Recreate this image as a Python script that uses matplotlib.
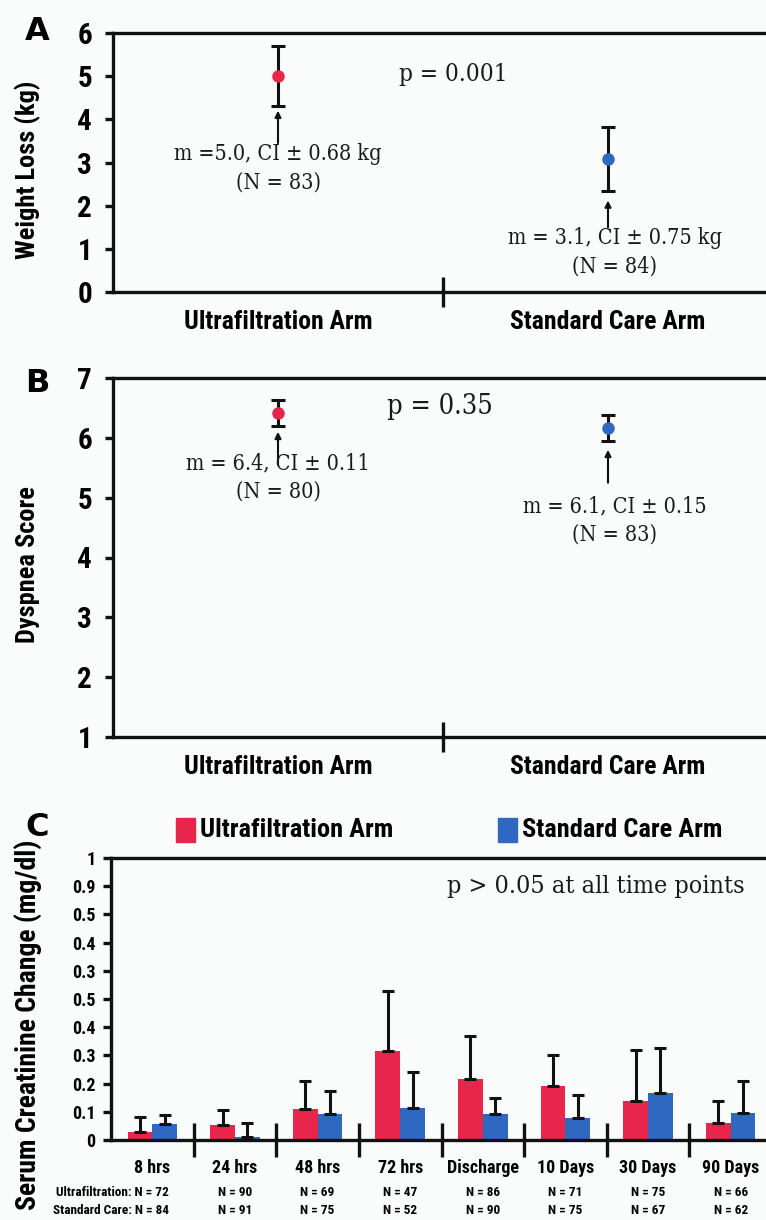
import matplotlib
matplotlib.use("Agg")
import matplotlib.pyplot as plt
import matplotlib.transforms as mtransforms
from matplotlib import font_manager as fm
import numpy as np

# ---------------- data ----------------
arms = ["Ultrafiltration Arm", "Standard Care Arm"]

weight_mean = [5.0, 3.08]
weight_err = [0.7, 0.74]
weight_text = ["m =5.0, CI \u00b1 0.68 kg\n(N = 83)", "m = 3.1, CI \u00b1 0.75 kg\n(N = 84)"]

dysp_mean = [6.41, 6.16]
dysp_err = [0.22, 0.22]
dysp_text = ["m = 6.4, CI \u00b1 0.11\n(N = 80)", "m = 6.1, CI \u00b1 0.15\n(N = 83)"]

time_points = ["8 hrs", "24 hrs", "48 hrs", "72 hrs", "Discharge", "10 Days", "30 Days", "90 Days"]
uf_change = [0.03, 0.053, 0.111, 0.315, 0.216, 0.193, 0.137, 0.061]
uf_err = [0.05, 0.054, 0.099, 0.215, 0.154, 0.107, 0.183, 0.077]
sc_change = [0.056, 0.01, 0.091, 0.115, 0.091, 0.078, 0.166, 0.096]
sc_err = [0.032, 0.05, 0.081, 0.125, 0.057, 0.08, 0.161, 0.112]
uf_n = [72, 90, 69, 47, 86, 71, 75, 66]
sc_n = [84, 91, 75, 52, 90, 75, 67, 62]
c_ytick_vals = [0, 0.1, 0.2, 0.3, 0.4, 0.5, 0.6, 0.7, 0.8, 0.9, 1.0]
c_ytick_labels = ["0", "0.1", "0.2", "0.3", "0.4", "0.5", "0.3", "0.4", "0.5", "0.9", "1"]

RED = "#e8254a"
BLUE = "#2f68c0"
BG = "#fafbfb"

# ---------------- fonts ----------------
avail = {f.name for f in fm.fontManager.ttflist}
cond_pref = ["Roboto Condensed", "Liberation Sans Narrow", "Open Sans Condensed",
             "Roboto", "Liberation Sans", "DejaVu Sans"]
cond_fam = [f for f in cond_pref if f in avail] or ["DejaVu Sans"]
COND = dict(family=[cond_fam[0], "DejaVu Sans"], weight="bold")
serif_cond = any(f.name == "DejaVu Serif" and f.stretch == "condensed"
                 for f in fm.fontManager.ttflist)
if serif_cond:
    SERIF = dict(family=["DejaVu Serif"], stretch="condensed")
else:
    SERIF = dict(family=["Liberation Serif", "DejaVu Serif"])

W, H = 766, 1220
fig = plt.figure(figsize=(W / 100, H / 100), dpi=100, facecolor=BG)


def ax_at(left, top, right, bottom):
    return fig.add_axes([left / W, 1 - bottom / H, (right - left) / W, (bottom - top) / H])


def style(ax):
    ax.set_facecolor(BG)
    for s in ["left", "top", "bottom"]:
        ax.spines[s].set_linewidth(2.4)
        ax.spines[s].set_color("#111111")
    ax.spines["right"].set_visible(False)


def point_panel(ax, means, errs, texts, ylim, arrows, text_y, p_text, p_xy, p_size,
                ylabel, ylab_y, xlab_y):
    style(ax)
    ax.set_xlim(0, 2)
    ax.set_ylim(*ylim)
    xs = [0.5, 1.5]
    cols = [RED, BLUE]
    for x, m, e, c in zip(xs, means, errs, cols):
        ax.errorbar([x], [m], yerr=[e], fmt="none", ecolor="#111111", elinewidth=2.2,
                    capsize=5, capthick=2.2, zorder=2)
        ax.plot([x], [m], "o", color=c, ms=8, zorder=3)
    for x, (y0, y1) in zip(xs, arrows):
        ax.annotate("", xy=(x, y1), xytext=(x, y0),
                    arrowprops=dict(arrowstyle="-|>", color="#111111", lw=1.5,
                                    mutation_scale=9, shrinkA=0, shrinkB=0))
    for x, t, ty in zip([0.5, 1.52], texts, text_y):
        ax.text(x, ty, t, ha="center", va="top", fontsize=15.5, linespacing=1.35,
                color="#1a1a1a", **SERIF)
    ax.text(p_xy[0], p_xy[1], p_text, ha="center", va="center", fontsize=p_size,
            color="#1a1a1a", **SERIF)
    ax.set_xticks([1.0])
    ax.set_xticklabels([""])
    ax.tick_params(axis="x", direction="inout", length=22, width=2.4, color="#111111")
    ax.tick_params(axis="y", direction="out", length=6, width=2.4, color="#111111",
                   labelsize=21, pad=9)
    for lab in ax.get_yticklabels():
        lab.set_fontweight("bold")
        lab.set_family(COND["family"])
    tr = mtransforms.blended_transform_factory(ax.transData, fig.transFigure)
    for x, a in zip(xs, arms):
        fig.text(x, 1 - xlab_y / H, a, ha="center", va="center", fontsize=18.5,
                 transform=tr, **COND)
    fig.text(28 / W, 1 - ylab_y / H, ylabel, rotation=90, ha="center", va="center",
             fontsize=19, **COND)


# ---------------- Panel A ----------------
axA = ax_at(113, 33, 773, 292)
axA.set_yticks(range(0, 7))
point_panel(axA, weight_mean, weight_err, weight_text, (0, 6),
            [(3.45, 4.2), (1.5, 2.12)], [3.45, 1.5], "p = 0.001", (1.03, 5.05), 17.5,
            "Weight Loss (kg)", 170, 322)

# ---------------- Panel B ----------------
axB = ax_at(113, 378, 773, 737)
axB.set_yticks(range(1, 8))
point_panel(axB, dysp_mean, dysp_err, dysp_text, (1, 7),
            [(5.55, 6.1), (5.25, 5.8)], [5.75, 5.04], "p = 0.35", (0.99, 6.53), 19.5,
            "Dyspnea Score", 565, 767)

# ---------------- Panel C ----------------
axC = ax_at(111, 858, 772, 1140)
style(axC)
x = np.arange(len(time_points))
bw = 0.3
axC.bar(x - bw / 2, uf_change, width=bw, color=RED, zorder=2)
axC.bar(x + bw / 2, sc_change, width=bw, color=BLUE, zorder=2)
axC.errorbar(x - bw / 2, uf_change, yerr=[np.zeros(len(x)), uf_err], fmt="none",
             ecolor="#111111", elinewidth=2.2, capsize=4, capthick=2.2, zorder=3)
axC.errorbar(x + bw / 2, sc_change, yerr=[np.zeros(len(x)), sc_err], fmt="none",
             ecolor="#111111", elinewidth=2.2, capsize=4, capthick=2.2, zorder=3)
axC.set_xlim(-0.5, 7.5)
axC.set_ylim(0, 1)
axC.set_yticks(c_ytick_vals)
axC.set_yticklabels(c_ytick_labels)
axC.set_xticks(x)
axC.set_xticklabels(time_points)
axC.set_xticks(np.arange(0.5, 7.5, 1.0), minor=True)
axC.tick_params(axis="x", which="major", length=0, labelsize=13, pad=14)
axC.tick_params(axis="x", which="minor", direction="inout", length=24, width=2.4,
                color="#111111")
axC.tick_params(axis="y", direction="out", length=6, width=2.4, color="#111111",
                labelsize=13, pad=5)
for lab in axC.get_xticklabels() + axC.get_yticklabels():
    lab.set_fontweight("bold")
    lab.set_family(COND["family"])
fig.text(28 / W, 1 - 1025 / H, "Serum Creatinine Change (mg/dl)", rotation=90,
         ha="center", va="center", fontsize=20, **COND)
axC.text(0.508, 0.9, "p > 0.05 at all time points", transform=axC.transAxes, fontsize=18,
         ha="left", va="center", color="#1a1a1a", **SERIF)

xt = axC.get_xaxis_transform()
for i, (u, s) in enumerate(zip(uf_n, sc_n)):
    if i == 0:
        axC.text(i + 0.2, -0.185, f"Ultrafiltration: N = {u}", ha="right", va="center",
                 fontsize=9.5, transform=xt, **COND)
        axC.text(i + 0.2, -0.25, f"Standard Care: N = {s}", ha="right", va="center",
                 fontsize=9.5, transform=xt, **COND)
    else:
        axC.text(i, -0.185, f"N = {u}", ha="center", va="center", fontsize=9.5,
                 transform=xt, **COND)
        axC.text(i, -0.25, f"N = {s}", ha="center", va="center", fontsize=9.5,
                 transform=xt, **COND)

# legend for C
fig.patches.append(plt.Rectangle((176 / W, 1 - 842 / H), 19 / W, 24 / H,
                                 transform=fig.transFigure, color=RED))
fig.text(200 / W, 1 - 830 / H, "Ultrafiltration Arm", fontsize=19, va="center",
         ha="left", **COND)
fig.patches.append(plt.Rectangle((498 / W, 1 - 842 / H), 19 / W, 24 / H,
                                 transform=fig.transFigure, color=BLUE))
fig.text(522 / W, 1 - 830 / H, "Standard Care Arm", fontsize=19, va="center",
         ha="left", **COND)

# panel letters
for lt, yy in [("A", 31), ("B", 383), ("C", 827)]:
    fig.text(25 / W, 1 - yy / H, lt, fontsize=23, fontweight="bold", va="center",
             ha="left", family=["DejaVu Sans"])

fig.savefig("out.png", dpi=100, facecolor=BG)
